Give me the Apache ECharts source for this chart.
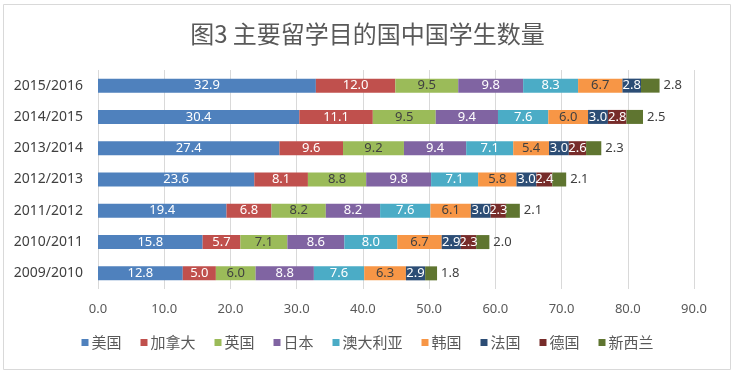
<!DOCTYPE html>
<html><head><meta charset="utf-8">
<script src="https://cdn.jsdelivr.net/npm/echarts@6/dist/echarts.min.js"></script>
<style>html,body{margin:0;padding:0;background:#fff}#c{width:735px;height:373px}</style>
</head><body><div id="c"></div>
<script>
const categories = ['2009/2010','2010/2011','2011/2012','2012/2013','2013/2014','2014/2015','2015/2016'];
const seriesNames = ['美国','加拿大','英国','日本','澳大利亚','韩国','法国','德国','新西兰'];
const usa       = [12.8, 15.8, 19.4, 23.6, 27.4, 30.4, 32.9];
const canada    = [5.0, 5.7, 6.8, 8.1, 9.6, 11.1, 12.0];
const uk        = [6.0, 7.1, 8.2, 8.8, 9.2, 9.5, 9.5];
const japan     = [8.8, 8.6, 8.2, 9.8, 9.4, 9.4, 9.8];
const australia = [7.6, 8.0, 7.6, 7.1, 7.1, 7.6, 8.3];
const korea     = [6.3, 6.7, 6.1, 5.8, 5.4, 6.0, 6.7];
const france    = [2.9, 2.9, 3.0, 3.0, 3.0, 3.0, 2.8];
const germany   = [null, 2.3, 2.3, 2.4, 2.6, 2.8, null];
const newzealand= [1.8, 2.0, 2.1, 2.1, 2.3, 2.5, 2.8];
const xTicks = [0, 10, 20, 30, 40, 50, 60, 70, 80, 90];

const values = [usa, canada, uk, japan, australia, korea, france, germany, newzealand];
const colors = ['#4F81BD','#C0504D','#9BBB59','#8064A2','#4BACC6','#F79646','#2C4D75','#772C2A','#5F7530'];
const labelColors = ['#fff','#fff','#404040','#fff','#fff','#404040','#fff','#fff','#404040'];
const FONT = "'Noto Sans', 'Noto Sans CJK SC', sans-serif";

const chart = echarts.init(document.getElementById('c'));
chart.setOption({
  animation: false,
  textStyle: { fontFamily: FONT },
  title: {
    text: '图3 主要留学目的国中国学生数量',
    left: 'center', top: 17,
    textStyle: { fontFamily: "'Noto Sans CJK SC', sans-serif", fontSize: 24, fontWeight: 'normal', color: '#595959' }
  },
  graphic: [{
    type: 'rect', shape: { x: 3.5, y: 4.5, width: 727, height: 365 },
    style: { fill: 'none', stroke: '#d9d9d9', lineWidth: 1 }, z: -1
  }],
  legend: {
    bottom: 18, left: 'center', itemWidth: 7, itemHeight: 7, itemGap: 19,
    icon: 'rect',
    textStyle: { fontFamily: "'Noto Sans CJK SC', sans-serif", fontSize: 15, color: '#595959', padding: [0,0,0,-2] },
    data: seriesNames
  },
  grid: { left: 98, right: 41, top: 70, bottom: 84, containLabel: false },
  xAxis: {
    type: 'value', min: xTicks[0], max: xTicks[xTicks.length-1], interval: 10,
    axisLine: { show: false }, axisTick: { show: false },
    splitLine: { lineStyle: { color: '#d9d9d9' } },
    axisLabel: { color: '#595959', fontSize: 13, margin: 14, formatter: v => v.toFixed(1) }
  },
  yAxis: {
    type: 'category', data: categories,
    axisLine: { show: false }, axisTick: { show: false },
    axisLabel: { color: '#404040', fontSize: 14, margin: 15 }
  },
  series: seriesNames.map((name, i) => ({
    name, type: 'bar', stack: 'total', barWidth: 14,
    itemStyle: { color: colors[i] },
    data: values[i],
    label: {
      show: true,
      position: i === seriesNames.length - 1 ? 'right' : 'inside',
      distance: 4,
      color: i === seriesNames.length - 1 ? '#404040' : labelColors[i],
      fontSize: 13,
      formatter: p => p.value == null ? '' : p.value.toFixed(1)
    }
  }))
});
</script></body></html>
